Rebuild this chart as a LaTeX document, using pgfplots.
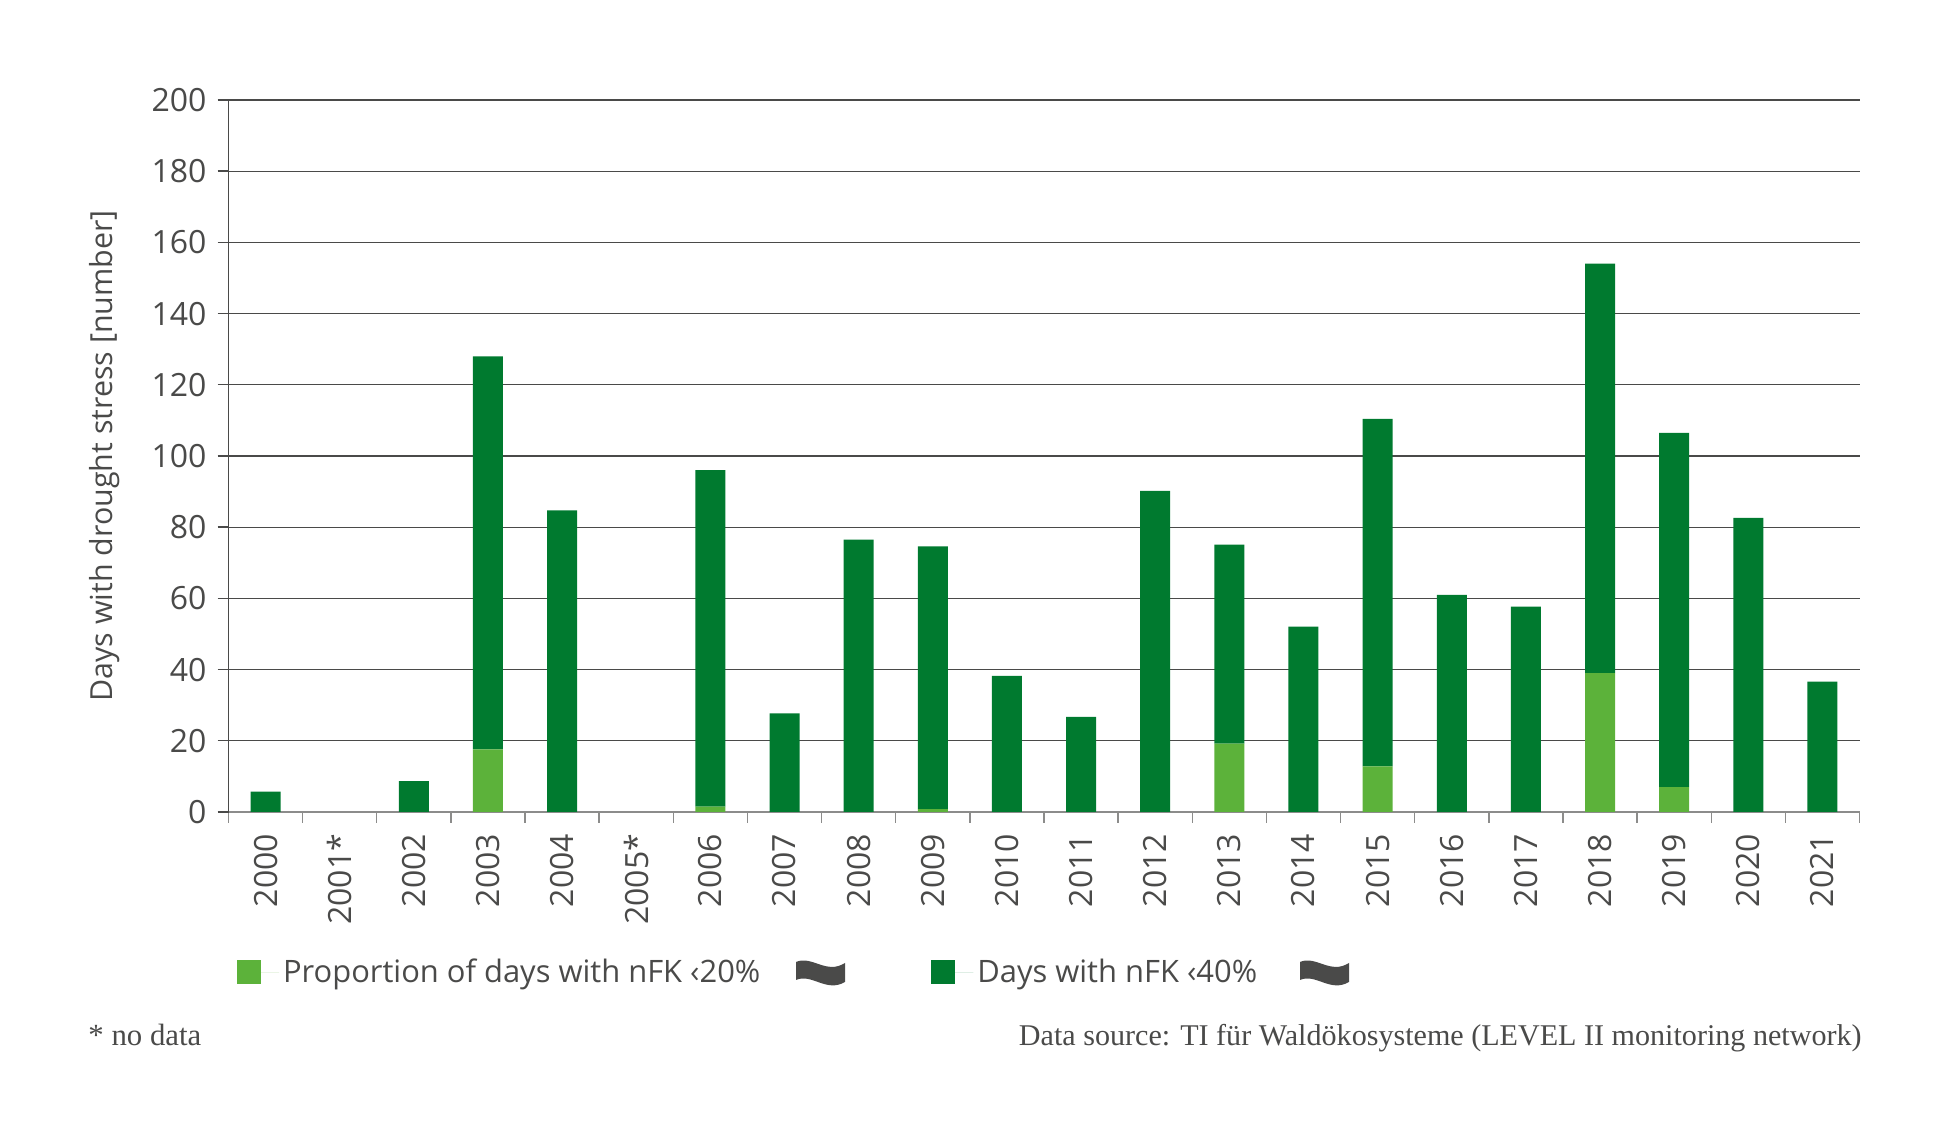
\documentclass[border=0pt]{standalone}
\usepackage{fontspec}
\setmainfont{Open Sans}
\newfontfamily\serifnote{Liberation Serif}
\usepackage{pgfplots}
\pgfplotsset{compat=1.18}
\definecolor{txt}{HTML}{4A4A49}
\definecolor{dgreen}{HTML}{007A2F}
\definecolor{lgreen}{HTML}{5CB23A}
\definecolor{gridc}{HTML}{4A4A49}
\definecolor{axisc}{HTML}{8C8C8B}
\newcommand{\wave}[2]{%
  \begin{scope}[shift={(#1,#2)}]
  \fill[txt] (0,0) .. controls (8,3.5) and (15,-6.5) .. (24.5,-0.5)
    -- (24.5,-10) .. controls (15,-15.5) and (8,-5.5) .. (0,-9) -- cycle;
  \end{scope}}
\begin{document}
\begin{tikzpicture}[x=1pt,y=1pt]
\useasboundingbox (0,0) rectangle (974.5,561);
\begin{axis}[
  at={(114.25pt,155pt)}, anchor=south west,
  scale only axis, width=815.5pt, height=356pt,
  ybar stacked, bar width=15pt,
  xmin=-0.5, xmax=21.5, ymin=0, ymax=200,
  ytick={0,20,...,200},
  xtick={0,...,21},
  xticklabels={2000,2001*,2002,2003,2004,2005*,2006,2007,2008,2009,2010,2011,2012,2013,2014,2015,2016,2017,2018,2019,2020,2021},
  minor xtick={-0.5,0.5,...,21.5},
  xtick pos=bottom, ytick pos=left,
  major x tick style={draw=none},
  minor x tick style={draw=axisc,line width=0.7pt},
  major y tick style={draw=gridc,line width=0.7pt},
  tick align=outside,
  major tick length=5.5pt, minor tick length=5.5pt,
  ymajorgrids,
  grid style={draw=gridc,line width=0.65pt},
  separate axis lines,
  x axis line style={draw=axisc,line width=0.8pt},
  y axis line style={draw=gridc,line width=0.65pt},
  axis x line*=bottom, axis y line*=left,
  clip=false,
  /pgf/number format/assume math mode=true,
  tick label style={font=\fontsize{16}{18}\selectfont, text=txt},
  yticklabel style={xshift=-2pt},
  xticklabel style={rotate=90, anchor=east, xshift=-2pt},
  ylabel={Days with drought stress [number]},
  ylabel style={font=\fontsize{15.2}{18}\selectfont, text=txt, at={(axis description cs:-0.0762,0.5)}, anchor=center},
  legend style={draw=none, fill=none, at={(axis description cs:0.005,-0.2)}, anchor=north west,
    legend columns=2, font=\fontsize{15.45}{18}\selectfont, text=txt,
    /tikz/every even column/.append style={column sep=83.5pt},
    inner sep=0pt, row sep=0pt},
  legend image code/.code={\fill[#1] (0pt,-6pt) rectangle (12pt,6pt); \path (0pt,0pt) -- (21pt,0pt);},
]
\addplot[fill=lgreen,draw=none] coordinates {(0,0) (1,0) (2,0) (3,17.6) (4,0) (5,0) (6,1.5) (7,0) (8,0) (9,0.8) (10,0) (11,0) (12,0) (13,19.2) (14,0) (15,12.8) (16,0) (17,0) (18,39) (19,7) (20,0) (21,0)};
\addplot[fill=dgreen,draw=none] coordinates {(0,5.7) (1,0) (2,8.7) (3,110.4) (4,84.7) (5,0) (6,94.5) (7,27.7) (8,76.5) (9,73.8) (10,38.2) (11,26.7) (12,90.2) (13,55.9) (14,52.1) (15,97.6) (16,61) (17,57.7) (18,115) (19,99.5) (20,82.6) (21,36.6)};
\legend{Proportion of days with nFK ‹20\%,Days with nFK ‹40\%}
\end{axis}
\wave{398}{80}
\wave{650}{80}
\node[anchor=base west,inner sep=0pt,text=txt,font=\serifnote\fontsize{15.4}{16}\selectfont] at (44,38) {* no data};
\node[anchor=base east,inner sep=0pt,text=txt,font=\serifnote\fontsize{15.05}{16}\selectfont] at (931,38) {Data source: TI für Waldökosysteme (LEVEL II monitoring network)};
\end{tikzpicture}
\end{document}
